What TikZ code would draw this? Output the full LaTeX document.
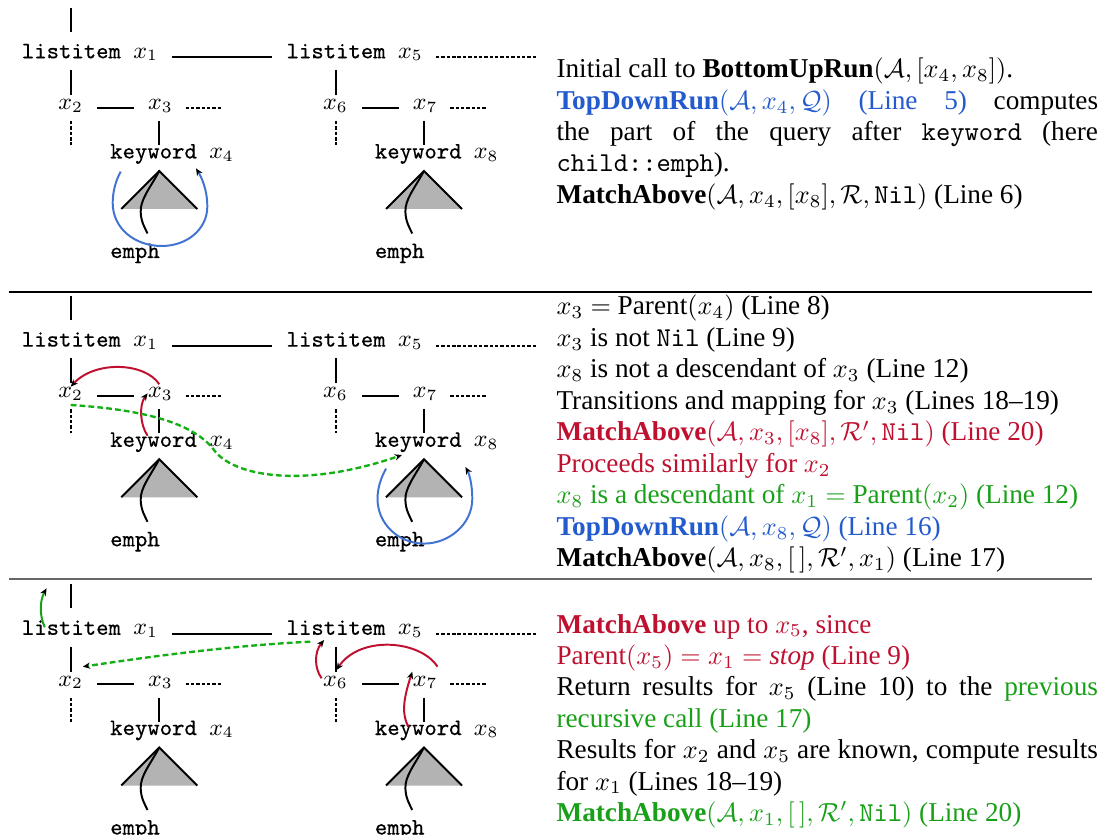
\documentclass[tikz,border=0pt]{standalone}
\usepackage[no-math]{fontspec}
\setmainfont{Liberation Serif}
\newfontfamily\treett{Latin Modern Mono}[FakeBold=0.12]
\usetikzlibrary{arrows.meta,calc}
\definecolor{myblue}{RGB}{35,90,205}
\definecolor{arcblue}{RGB}{65,115,210}
\definecolor{myred}{RGB}{192,16,48}
\definecolor{mygreen}{RGB}{25,160,25}
\definecolor{dashgreen}{RGB}{20,175,20}
\definecolor{trigray}{RGB}{179,179,179}
\newlength{\tw}
\setlength{\tw}{206.7pt}
\tikzset{
  treeline/.style={line width=0.75pt},
  treedots/.style={line width=0.75pt, dash pattern=on 1.3pt off 0.75pt},
  arr/.style={-{Stealth[length=2.8pt,width=2.4pt,black]}, line width=0.75pt},
  tn/.style={inner sep=0pt, anchor=base west, font=\fontsize{9}{11}\selectfont},
  txt/.style={inner sep=0pt, anchor=base west, font=\fontsize{10.4}{12}\selectfont},
}
% #1 suffix, #2 x offset, #3 y offset, #4 #5 #6 #7 indices
\newcommand\subtree[7]{%
  \node[tn] (L#1) at (21.4+#2,58.3+#3) {{\treett listitem }$x_{#4}$};
  \node[tn] (A#1) at (57.9+#2,109.5+#3) {$x_{#5}$};
  \node[tn] (B#1) at (147.6+#2,109.5+#3) {$x_{#6}$};
  \node[tn] (K#1) at (109.7+#2,158.5+#3) {{\treett keyword }$x_{#7}$};
  \node[tn] (E#1) at (109.7+#2,258+#3) {{\treett emph}};
  \coordinate (T#1) at ($(B#1.base west)+(11.7,61.5)$);
  \draw[treeline] (L#1.base west) ++(50,11.7) -- ++(0,25);
  \draw[treeline] (A#1.base west) ++(39.3,-1.8) -- ++(36.6,0);
  \draw[treedots] (B#1.base west) ++(37.9,-1.8) -- ++(36.9,0);
  \draw[treedots] (A#1.base west) ++(13.5,11.5) -- ++(0,24);
  \draw[treeline] (B#1.base west) ++(11.7,11.5) -- ++(0,24);
  \fill[trigray] (T#1) -- ([shift={(-38,38)}]T#1) -- ([shift={(38,38)}]T#1) -- cycle;
  \draw[treeline] ([shift={(-38,38)}]T#1) -- (T#1) -- ([shift={(38,38)}]T#1);
  \draw[treeline] (T#1) .. controls ([shift={(-9.3,17)}]T#1) and ([shift={(-19.3,29)}]T#1)
     .. ([shift={(-18.6,41)}]T#1) .. controls ([shift={(-18.3,51)}]T#1) and ([shift={(-14.3,57)}]T#1)
     .. ([shift={(-11.8,62.5)}]T#1);
}
\newcommand\wholetree[2]{% #1 panel suffix, #2 y offset
  \subtree{l#1}{0}{#2}{1}{2}{3}{4}
  \subtree{r#1}{264.7}{#2}{5}{6}{7}{8}
  \draw[treeline] (Ll#1.base west) ++(50,-50.3) -- ++(0,24);
  \draw[treeline] ([shift={(150.3,-1)}]Ll#1.base west) -- ([shift={(-13.8,-1)}]Lr#1.base west);
  \draw[treedots] (Lr#1.base west) ++(149.9,-1) -- ++(101,0);
}
\begin{document}
\begin{tikzpicture}[x=0.38168pt,y=-0.38168pt]
\useasboundingbox (0,0) rectangle (1102,835);
\clip (0,0) rectangle (1102,835);
\fill[white] (0,0) rectangle (1102,835);

% ---------- trees ----------
\wholetree{1}{0}
\wholetree{2}{288.3}
\wholetree{3}{576.5}

% separators
\draw[line width=0.4pt] (8.6,292) -- (1092,292);
\draw[black!60, line width=0.6pt] (8.6,579) -- (1092,579);

% ---------- panel 1 arrows ----------
\begin{scope}[shift={(Tl1)}]
\draw[arr, arcblue] (-38.6,0.7) .. controls (-44,10) and (-46.6,22) .. (-46.6,32)
  .. controls (-46.6,57) and (-25,75) .. (2.4,75)
  .. controls (28,75) and (48,58) .. (48,35.7)
  .. controls (48,18) and (42,6) .. (36.7,-2.7);
\end{scope}

% ---------- panel 2 arrows ----------
\draw[arr, myred] ([shift={(11.7,-13.5)}]Bl2.base west) .. controls ([shift={(-2.6,-35.5)}]Bl2.base west) and ([shift={(-52.6,-37.5)}]Bl2.base west) .. ([shift={(12.8,-11.1)}]Al2.base west);
\draw[arr, myred] ([shift={(0,37.9)}]Bl2.base west) .. controls ([shift={(-7.6,27.2)}]Bl2.base west) and ([shift={(-8.6,7.2)}]Bl2.base west) .. ([shift={(0,-4.5)}]Bl2.base west);
\draw[arr, dashgreen, line width=0.9pt, dash pattern=on 2.2pt off 1.2pt]
  ([shift={(12.8,7.2)}]Al2.base west) .. controls (150,410) and (195,425) .. (214,450)
  .. controls (232,475) and (300,490) .. ([shift={(27.6,8.2)}]Kr2.base west);
\begin{scope}[shift={(Tr2)}]
\draw[arr, arcblue] (-37.9,9.3) .. controls (-43,18) and (-46.5,29) .. (-46.5,39.3)
  .. controls (-46.5,65) and (-25,84.3) .. (0,84.3)
  .. controls (25,84.3) and (48.3,65) .. (48.3,39.3)
  .. controls (48.3,25) and (45,14) .. (41.4,7.7);
\end{scope}

% ---------- panel 3 arrows ----------
\draw[arr, mygreen] ([shift={(23.4,-7.5)}]Ll3.base west) .. controls ([shift={(17.6,-19.8)}]Ll3.base west) and ([shift={(18.6,-34.8)}]Ll3.base west) .. ([shift={(25.2,-46.5)}]Ll3.base west);
\draw[arr, dashgreen, line width=0.9pt, dash pattern=on 2.2pt off 1.2pt]
  ([shift={(24.2,6.9)}]Lr3.base west) .. controls (240,645) and (160,655) .. ([shift={(24.9,-19.3)}]Al3.base west);
\draw[arr, myred] ([shift={(25.2,-19.3)}]Br3.base west) .. controls ([shift={(8,-46)}]Br3.base west) and ([shift={(-52,-51)}]Br3.base west) .. ([shift={(13.8,-16)}]Ar3.base west);
\draw[arr, myred] ([shift={(-1,-7.7)}]Ar3.base west) .. controls ([shift={(-8.4,-18)}]Ar3.base west) and ([shift={(-8.4,-34)}]Ar3.base west) .. ([shift={(38,5.2)}]Lr3.base west);
\draw[arr, myred] ([shift={(33.9,-8.3)}]Kr3.base west) .. controls ([shift={(27.9,-20)}]Kr3.base west) and ([shift={(27.9,-33)}]Kr3.base west) .. ([shift={(0,-14.3)}]Br3.base west);

% ---------- texts panel 1 ----------
\node[txt] (p1a) at (556,77.7) {Initial call to \textbf{BottomUpRun}$(\mathcal{A},[x_4,x_8])$.};
\node[txt] (p1b) at (556,109.1) {\makebox[\tw][s]{{\color{myblue}\textbf{TopDownRun}$(\mathcal{A},x_4,\mathcal{Q})$ (Line 5)} computes}};
\node[txt] (p1c) at (556,140.5) {\makebox[\tw][s]{the part of the query after \texttt{keyword} (here}};
\node[txt] (p1d) at (556,171.9) {\texttt{child::emph}).};
\node[txt] (p1e) at (556,203.3) {\textbf{MatchAbove}$(\mathcal{A},x_4,[x_8],\mathcal{R},\texttt{Nil})$ (Line 6)};

% ---------- texts panel 2 ----------
\node[txt] (p2a) at (556,315) {$x_3 =$ Parent$(x_4)$ (Line 8)};
\node[txt] (p2b) at (556,346.5) {$x_3$ is not \texttt{Nil} (Line 9)};
\node[txt] (p2c) at (556,378) {$x_8$ is not a descendant of $x_3$ (Line 12)};
\node[txt] (p2d) at (556,409.5) {Transitions and mapping for $x_3$ (Lines 18--19)};
\node[txt, text=myred] (p2e) at (556,441) {\textbf{MatchAbove}$(\mathcal{A},x_3,[x_8],\mathcal{R}',\texttt{Nil})$ (Line 20)};
\node[txt, text=myred] (p2f) at (556,472.5) {Proceeds similarly for $x_2$};
\node[txt, text=mygreen] (p2g) at (556,504) {$x_8$ is a descendant of $x_1 =$ Parent$(x_2)$ (Line 12)};
\node[txt, text=myblue] (p2h) at (556,535.5) {\textbf{TopDownRun}$(\mathcal{A},x_8,\mathcal{Q})$ (Line 16)};
\node[txt] (p2i) at (556,567) {\textbf{MatchAbove}$(\mathcal{A},x_8,[\,],\mathcal{R}',x_1)$ (Line 17)};

% ---------- texts panel 3 ----------
\node[txt, text=myred] (p3a) at (556,633) {\textbf{MatchAbove} up to $x_5$, since};
\node[txt, text=myred] (p3b) at (556,664.4) {Parent$(x_5) = x_1 =$ \textit{stop} (Line 9)};
\node[txt] (p3c) at (556,695.8) {\makebox[\tw][s]{Return results for $x_5$ (Line 10) to the {\color{mygreen}previous}}};
\node[txt, text=mygreen] (p3d) at (556,727.2) {recursive call (Line 17)};
\node[txt] (p3e) at (556,758.6) {\makebox[\tw][s]{Results for $x_2$ and $x_5$ are known, compute results}};
\node[txt] (p3f) at (556,790) {for $x_1$ (Lines 18--19)};
\node[txt, text=mygreen] (p3g) at (556,821.4) {\textbf{MatchAbove}$(\mathcal{A},x_1,[\,],\mathcal{R}',\texttt{Nil})$ (Line 20)};
\end{tikzpicture}
\end{document}
